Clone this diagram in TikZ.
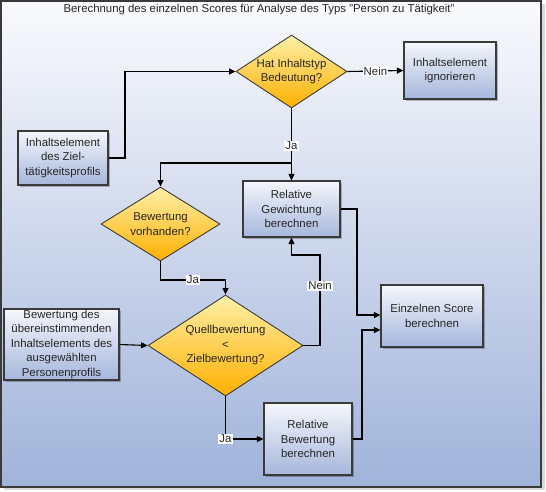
\documentclass[tikz,border=0pt]{standalone}
\usepackage{fontspec}
\setmainfont{Liberation Sans}
\usetikzlibrary{shapes.geometric,shadows,arrows.meta}
\definecolor{txt}{HTML}{262626}
\definecolor{boxtop}{HTML}{F4F6FB}
\definecolor{boxbot}{HTML}{A6B7DC}
\definecolor{diatop}{HTML}{FFF0A8}
\definecolor{diabot}{HTML}{FFB000}
\definecolor{bgtop}{HTML}{F9FAFD}
\definecolor{bgbot}{HTML}{A0B3DA}
\definecolor{frame}{HTML}{3A3A3A}
\tikzset{
  every node/.style={font=\fontsize{11.4}{14.5}\selectfont, text=txt},
  procbox/.style={draw=frame, line width=1.2pt, top color=boxtop, bottom color=boxbot,
    align=center, inner sep=0pt,
    drop shadow={shadow xshift=2pt, shadow yshift=-2pt, fill=black, opacity=0.25}},
  decision/.style={diamond, draw=frame, line width=0.9pt, top color=diatop, bottom color=diabot,
    align=center, inner sep=0pt, shape aspect=1.5},
  conn/.style={line width=1.1pt, -{Triangle[length=6.5pt,width=6pt]}},
  lab/.style={fill=white, inner sep=1pt}
}
\begin{document}
\begin{tikzpicture}[x=1pt,y=-1pt]
\useasboundingbox (0,0) rectangle (546,491);
% frame shadow
\fill[black!15] (4,4) rectangle (545,490);
\draw[frame, line width=1.5pt, top color=bgtop, bottom color=bgbot] (1,1) rectangle (541,487);
\node (title) at (259,10) {Berechnung des einzelnen Scores für Analyse des Typs "Person zu Tätigkeit"};

\node[decision, minimum width=111pt, minimum height=73pt] (d1) at (291.5,71.5) {Hat Inhaltstyp\\Bedeutung?};
\node[procbox, minimum width=92pt, minimum height=57pt] (ign) at (450,70.5) {Inhaltselement\\ignorieren};
\node[procbox, minimum width=90pt, minimum height=54pt] (ziel) at (63,158) {Inhaltselement\\des Ziel-\\tätigkeitsprofils};
\node[procbox, minimum width=97pt, minimum height=56pt] (gew) at (291.5,209) {Relative\\Gewichtung\\berechnen};
\node[decision, minimum width=119pt, minimum height=74pt] (d2) at (160.5,224) {Bewertung\\vorhanden?};
\node[procbox, minimum width=102pt, minimum height=62pt] (score) at (432,316) {Einzelnen Score\\berechnen};
\node[procbox, minimum width=115pt, minimum height=71pt] (bew) at (61.5,344.5) {Bewertung des\\übereinstimmenden\\Inhaltselements des\\ausgewählten\\Personenprofils};
\node[decision, minimum width=155pt, minimum height=101pt] (d3) at (225.5,345.5) {Quellbewertung\\<\\Zielbewertung?};
\node[procbox, minimum width=88pt, minimum height=72pt] (rb) at (308,439) {Relative\\Bewertung\\berechnen};

\coordinate (j1) at (291.5,163);
\draw[conn] (ziel.east) -- (125,158) |- (d1.west);
\draw[conn] (d1.east) -- node[lab] {Nein} (ign.west);
\draw[line width=1.1pt] (d1.south) -- node[lab, pos=0.68] {Ja} (j1);
\draw[conn] (j1) -- (gew.north);
\draw[conn] (j1) -| (d2.north);
\draw[conn] (d2.south) |- node[lab, pos=0.75] {Ja} (225.5,280) -- (d3.north);
\draw[conn] (bew.east) -- (d3.west);
\draw[conn] (d3.east) -| node[lab, pos=0.83] {Nein} (320,255) -| (gew.south);
\draw[conn] (d3.south) |- node[lab, pos=0.5] {Ja} (rb.west);
\draw[conn] (gew.east) -- (357,209) |- (score.west |- 0,315);
\draw[conn] (rb.east) -- (362,439) |- (score.west |- 0,330);
\end{tikzpicture}
\end{document}
